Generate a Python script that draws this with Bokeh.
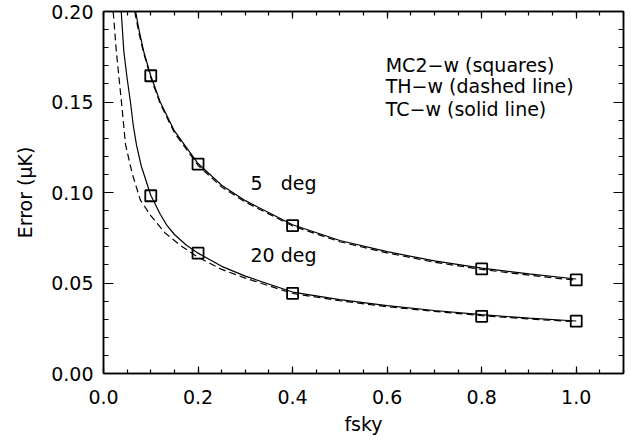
from bokeh.plotting import figure
from bokeh.models import (Range1d, LinearAxis, SingleIntervalTicker,
                          NumeralTickFormatter, ColumnDataSource, CustomJSTickFormatter)
from bokeh.core.properties import value
from bokeh.embed import file_html
from bokeh.resources import INLINE

# --- data -------------------------------------------------------------
# squares (MC2-w)
fsky_pts = [0.1, 0.2, 0.4, 0.8, 1.0]
mc2_5deg = [0.1645, 0.1157, 0.0817, 0.0578, 0.0517]
mc2_20deg = [0.0982, 0.0665, 0.0443, 0.0316, 0.0289]

# TC-w (solid), 5 deg
tc5_x = [0.068, 0.075, 0.085, 0.1, 0.12, 0.15, 0.2, 0.25, 0.3, 0.4, 0.5, 0.6, 0.7, 0.8, 0.9, 1.0]
tc5_y = [0.200, 0.190, 0.178, 0.1645, 0.150, 0.134, 0.1160, 0.1040, 0.0955, 0.0822, 0.0735,
         0.0673, 0.0622, 0.0582, 0.0550, 0.0522]
# TH-w (dashed), 5 deg
th5_x = [0.066, 0.075, 0.085, 0.1, 0.12, 0.15, 0.2, 0.25, 0.3, 0.4, 0.5, 0.6, 0.7, 0.8, 0.9, 1.0]
th5_y = [0.200, 0.188, 0.177, 0.1635, 0.149, 0.133, 0.1150, 0.1030, 0.0947, 0.0815, 0.0728,
         0.0666, 0.0615, 0.0575, 0.0543, 0.0515]
# TC-w (solid), 20 deg
tc20_x = [0.0375, 0.043, 0.050, 0.057, 0.063, 0.070, 0.080, 0.1, 0.12, 0.135, 0.15, 0.175, 0.2,
          0.25, 0.3, 0.4, 0.5, 0.6, 0.7, 0.8, 0.9, 1.0]
tc20_y = [0.200, 0.178, 0.163, 0.150, 0.137, 0.126, 0.1145, 0.0985, 0.0880, 0.0815, 0.0768,
          0.0710, 0.0665, 0.0592, 0.0538, 0.0450, 0.0408, 0.0375, 0.0348, 0.0325, 0.0306, 0.0290]
# TH-w (dashed), 20 deg
th20_x = [0.0205, 0.0275, 0.038, 0.0466, 0.061, 0.078, 0.1, 0.13, 0.163, 0.2, 0.25, 0.3, 0.4,
          0.5, 0.6, 0.7, 0.8, 0.9, 1.0]
th20_y = [0.200, 0.177, 0.150, 0.1265, 0.1102, 0.0958, 0.0872, 0.0777, 0.0707, 0.0642, 0.0575,
          0.0527, 0.0442, 0.0402, 0.0369, 0.0343, 0.0320, 0.0301, 0.0286]

# annotations
curve_labels = ["5\u00a0\u00a0\u00a0deg", "20 deg"]
curve_label_x = [0.311, 0.311]
curve_label_y = [0.1050, 0.0652]
key_lines = ["MC2\u2212w (squares)", "TH\u2212w (dashed line)", "TC\u2212w (solid line)"]
key_x = [0.597, 0.597, 0.597]
key_y = [0.1705, 0.1586, 0.1462]

FONT = "DejaVu Sans"
FS = "19px"

p = figure(width=637, height=443, x_range=Range1d(0, 1.1), y_range=Range1d(0, 0.2),
           output_backend="svg", toolbar_location=None,
           min_border_left=103, min_border_right=14, min_border_top=11, min_border_bottom=70)
p.xgrid.visible = False
p.ygrid.visible = False
p.outline_line_color = "black"
p.outline_line_width = 1.5
p.background_fill_color = "white"
p.border_fill_color = "white"

xt = SingleIntervalTicker(interval=0.2, num_minor_ticks=4)
yt = SingleIntervalTicker(interval=0.05, num_minor_ticks=5)

def style(ax, tin, tmin):
    ax.axis_line_color = "black"
    ax.axis_line_width = 1.5
    ax.major_tick_line_color = "black"
    ax.minor_tick_line_color = "black"
    ax.major_tick_line_width = 1.2
    ax.minor_tick_line_width = 1.2
    ax.major_tick_in = tin
    ax.major_tick_out = 0
    ax.minor_tick_in = tmin
    ax.minor_tick_out = 0
    ax.major_label_text_font = FONT
    ax.major_label_text_font_size = FS
    ax.major_label_text_color = "black"
    ax.axis_label_text_font = FONT
    ax.axis_label_text_font_size = FS
    ax.axis_label_text_font_style = "normal"
    ax.axis_label_text_color = "black"

xa = p.xaxis[0]
xa.ticker = xt
xa.formatter = NumeralTickFormatter(format="0.0")
style(xa, 7, 4)
xa.major_label_standoff = 16
xa.axis_label = "fsky"
xa.axis_label_standoff = 6

ya = p.yaxis[0]
ya.ticker = yt
ya.formatter = NumeralTickFormatter(format="0.00")
style(ya, 10, 5)
ya.major_label_standoff = 10
ya.axis_label = "Error (\u03bcK)"
ya.axis_label_standoff = 12

blank = CustomJSTickFormatter(code="return ''")

top = LinearAxis(ticker=xt, formatter=blank)
style(top, 7, 4)
top.major_label_text_font_size = "1px"
top.major_label_standoff = 0
p.add_layout(top, "above")

right = LinearAxis(ticker=yt, formatter=blank)
style(right, 10, 5)
right.major_label_text_font_size = "1px"
right.major_label_standoff = 0
p.add_layout(right, "right")

lw = 1.2
p.line(tc5_x, tc5_y, line_color="black", line_width=lw)
p.line(th5_x, th5_y, line_color="black", line_width=lw, line_dash="7 4")
p.line(tc20_x, tc20_y, line_color="black", line_width=lw)
p.line(th20_x, th20_y, line_color="black", line_width=lw, line_dash="7 4")

p.scatter(fsky_pts, mc2_5deg, marker="square", size=11, fill_color=None,
          line_color="black", line_width=1.8)
p.scatter(fsky_pts, mc2_20deg, marker="square", size=11, fill_color=None,
          line_color="black", line_width=1.8)

lab_src = ColumnDataSource(dict(x=curve_label_x, y=curve_label_y, t=curve_labels))
p.text(x="x", y="y", text="t", source=lab_src, text_font=value(FONT),
       text_font_size=FS, text_baseline="middle", text_align="left", text_color="black")

key_src = ColumnDataSource(dict(x=key_x, y=key_y, t=key_lines))
p.text(x="x", y="y", text="t", source=key_src, text_font=value(FONT),
       text_font_size=FS, text_baseline="middle", text_align="left", text_color="black")

open("out.html", "w").write(file_html(p, INLINE))
